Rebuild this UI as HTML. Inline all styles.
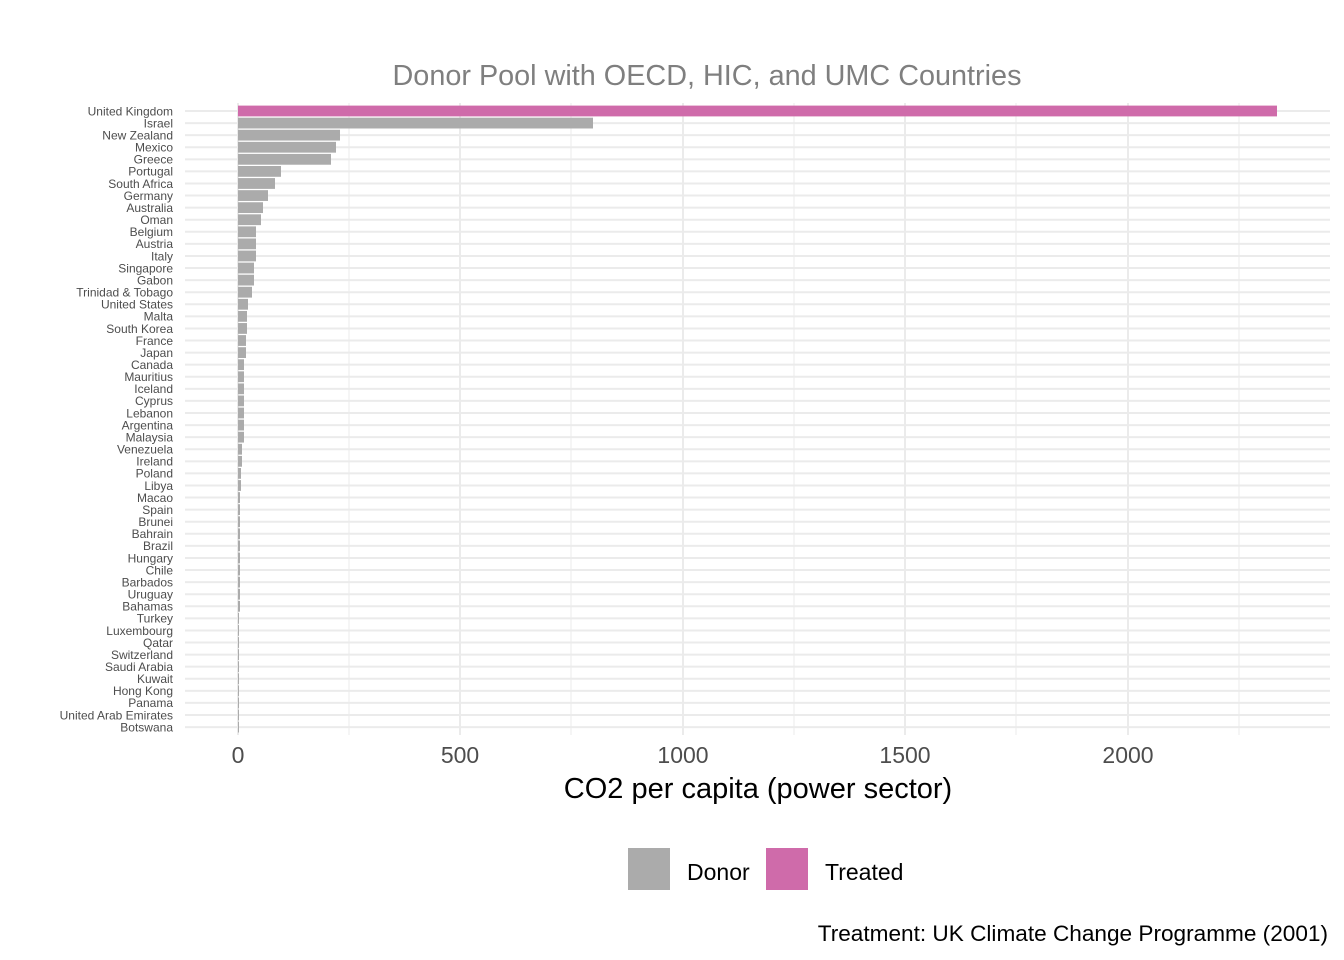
<!DOCTYPE html>
<html><head><meta charset="utf-8"><style>body{margin:0;background:#fff}svg{display:block}text{font-family:"Liberation Sans",Arial,sans-serif}.l{font-size:12px;fill:#4d4d4d;text-anchor:end}.g{stroke:#ebebeb;stroke-width:2}.d{fill:#ababab}</style></head><body>
<svg width="1344" height="960" xmlns="http://www.w3.org/2000/svg">
<rect width="1344" height="960" fill="#fff"/>
<g stroke="#ebebeb" stroke-width="1">
<line x1="349" y1="103" x2="349" y2="735"/><line x1="571" y1="103" x2="571" y2="735"/><line x1="794" y1="103" x2="794" y2="735"/><line x1="1016" y1="103" x2="1016" y2="735"/><line x1="1239" y1="103" x2="1239" y2="735"/>
</g>
<g stroke="#ebebeb" stroke-width="2">
<line x1="238" y1="103" x2="238" y2="735"/><line x1="460" y1="103" x2="460" y2="735"/><line x1="683" y1="103" x2="683" y2="735"/><line x1="905" y1="103" x2="905" y2="735"/><line x1="1128" y1="103" x2="1128" y2="735"/>
</g>
<g>
<g transform="translate(0,111)"><line class="g" x1="185" x2="1330"/><rect x="238" y="-5.4" width="1039" height="10.8" fill="#cf6baa"/><text class="l" x="173" y="4.3">United Kingdom</text></g>
<g transform="translate(0,123.08)"><line class="g" x1="185" x2="1330"/><rect class="d" x="238" y="-5.4" width="355" height="10.8"/><text class="l" x="173" y="4.3">Israel</text></g>
<g transform="translate(0,135.16)"><line class="g" x1="185" x2="1330"/><rect class="d" x="238" y="-5.4" width="102" height="10.8"/><text class="l" x="173" y="4.3">New Zealand</text></g>
<g transform="translate(0,147.24)"><line class="g" x1="185" x2="1330"/><rect class="d" x="238" y="-5.4" width="98" height="10.8"/><text class="l" x="173" y="4.3">Mexico</text></g>
<g transform="translate(0,159.32)"><line class="g" x1="185" x2="1330"/><rect class="d" x="238" y="-5.4" width="93" height="10.8"/><text class="l" x="173" y="4.3">Greece</text></g>
<g transform="translate(0,171.4)"><line class="g" x1="185" x2="1330"/><rect class="d" x="238" y="-5.4" width="43" height="10.8"/><text class="l" x="173" y="4.3">Portugal</text></g>
<g transform="translate(0,183.48)"><line class="g" x1="185" x2="1330"/><rect class="d" x="238" y="-5.4" width="37" height="10.8"/><text class="l" x="173" y="4.3">South Africa</text></g>
<g transform="translate(0,195.56)"><line class="g" x1="185" x2="1330"/><rect class="d" x="238" y="-5.4" width="30" height="10.8"/><text class="l" x="173" y="4.3">Germany</text></g>
<g transform="translate(0,207.64)"><line class="g" x1="185" x2="1330"/><rect class="d" x="238" y="-5.4" width="25" height="10.8"/><text class="l" x="173" y="4.3">Australia</text></g>
<g transform="translate(0,219.72)"><line class="g" x1="185" x2="1330"/><rect class="d" x="238" y="-5.4" width="23" height="10.8"/><text class="l" x="173" y="4.3">Oman</text></g>
<g transform="translate(0,231.8)"><line class="g" x1="185" x2="1330"/><rect class="d" x="238" y="-5.4" width="18" height="10.8"/><text class="l" x="173" y="4.3">Belgium</text></g>
<g transform="translate(0,243.88)"><line class="g" x1="185" x2="1330"/><rect class="d" x="238" y="-5.4" width="18" height="10.8"/><text class="l" x="173" y="4.3">Austria</text></g>
<g transform="translate(0,255.96)"><line class="g" x1="185" x2="1330"/><rect class="d" x="238" y="-5.4" width="18" height="10.8"/><text class="l" x="173" y="4.3">Italy</text></g>
<g transform="translate(0,268.04)"><line class="g" x1="185" x2="1330"/><rect class="d" x="238" y="-5.4" width="16" height="10.8"/><text class="l" x="173" y="4.3">Singapore</text></g>
<g transform="translate(0,280.12)"><line class="g" x1="185" x2="1330"/><rect class="d" x="238" y="-5.4" width="16" height="10.8"/><text class="l" x="173" y="4.3">Gabon</text></g>
<g transform="translate(0,292.2)"><line class="g" x1="185" x2="1330"/><rect class="d" x="238" y="-5.4" width="14" height="10.8"/><text class="l" x="173" y="4.3">Trinidad &amp; Tobago</text></g>
<g transform="translate(0,304.28)"><line class="g" x1="185" x2="1330"/><rect class="d" x="238" y="-5.4" width="10" height="10.8"/><text class="l" x="173" y="4.3">United States</text></g>
<g transform="translate(0,316.36)"><line class="g" x1="185" x2="1330"/><rect class="d" x="238" y="-5.4" width="9" height="10.8"/><text class="l" x="173" y="4.3">Malta</text></g>
<g transform="translate(0,328.44)"><line class="g" x1="185" x2="1330"/><rect class="d" x="238" y="-5.4" width="9" height="10.8"/><text class="l" x="173" y="4.3">South Korea</text></g>
<g transform="translate(0,340.52)"><line class="g" x1="185" x2="1330"/><rect class="d" x="238" y="-5.4" width="8" height="10.8"/><text class="l" x="173" y="4.3">France</text></g>
<g transform="translate(0,352.6)"><line class="g" x1="185" x2="1330"/><rect class="d" x="238" y="-5.4" width="8" height="10.8"/><text class="l" x="173" y="4.3">Japan</text></g>
<g transform="translate(0,364.68)"><line class="g" x1="185" x2="1330"/><rect class="d" x="238" y="-5.4" width="6" height="10.8"/><text class="l" x="173" y="4.3">Canada</text></g>
<g transform="translate(0,376.76)"><line class="g" x1="185" x2="1330"/><rect class="d" x="238" y="-5.4" width="6" height="10.8"/><text class="l" x="173" y="4.3">Mauritius</text></g>
<g transform="translate(0,388.84)"><line class="g" x1="185" x2="1330"/><rect class="d" x="238" y="-5.4" width="6" height="10.8"/><text class="l" x="173" y="4.3">Iceland</text></g>
<g transform="translate(0,400.92)"><line class="g" x1="185" x2="1330"/><rect class="d" x="238" y="-5.4" width="6" height="10.8"/><text class="l" x="173" y="4.3">Cyprus</text></g>
<g transform="translate(0,413)"><line class="g" x1="185" x2="1330"/><rect class="d" x="238" y="-5.4" width="6" height="10.8"/><text class="l" x="173" y="4.3">Lebanon</text></g>
<g transform="translate(0,425.08)"><line class="g" x1="185" x2="1330"/><rect class="d" x="238" y="-5.4" width="6" height="10.8"/><text class="l" x="173" y="4.3">Argentina</text></g>
<g transform="translate(0,437.16)"><line class="g" x1="185" x2="1330"/><rect class="d" x="238" y="-5.4" width="6" height="10.8"/><text class="l" x="173" y="4.3">Malaysia</text></g>
<g transform="translate(0,449.24)"><line class="g" x1="185" x2="1330"/><rect class="d" x="238" y="-5.4" width="4" height="10.8"/><text class="l" x="173" y="4.3">Venezuela</text></g>
<g transform="translate(0,461.32)"><line class="g" x1="185" x2="1330"/><rect class="d" x="238" y="-5.4" width="4" height="10.8"/><text class="l" x="173" y="4.3">Ireland</text></g>
<g transform="translate(0,473.4)"><line class="g" x1="185" x2="1330"/><rect class="d" x="238" y="-5.4" width="3" height="10.8"/><text class="l" x="173" y="4.3">Poland</text></g>
<g transform="translate(0,485.48)"><line class="g" x1="185" x2="1330"/><rect class="d" x="238" y="-5.4" width="3" height="10.8"/><text class="l" x="173" y="4.3">Libya</text></g>
<g transform="translate(0,497.56)"><line class="g" x1="185" x2="1330"/><rect class="d" x="238" y="-5.4" width="2" height="10.8"/><text class="l" x="173" y="4.3">Macao</text></g>
<g transform="translate(0,509.64)"><line class="g" x1="185" x2="1330"/><rect class="d" x="238" y="-5.4" width="2" height="10.8"/><text class="l" x="173" y="4.3">Spain</text></g>
<g transform="translate(0,521.72)"><line class="g" x1="185" x2="1330"/><rect class="d" x="238" y="-5.4" width="2" height="10.8"/><text class="l" x="173" y="4.3">Brunei</text></g>
<g transform="translate(0,533.8)"><line class="g" x1="185" x2="1330"/><rect class="d" x="238" y="-5.4" width="2" height="10.8"/><text class="l" x="173" y="4.3">Bahrain</text></g>
<g transform="translate(0,545.88)"><line class="g" x1="185" x2="1330"/><rect class="d" x="238" y="-5.4" width="2" height="10.8"/><text class="l" x="173" y="4.3">Brazil</text></g>
<g transform="translate(0,557.96)"><line class="g" x1="185" x2="1330"/><rect class="d" x="238" y="-5.4" width="2" height="10.8"/><text class="l" x="173" y="4.3">Hungary</text></g>
<g transform="translate(0,570.04)"><line class="g" x1="185" x2="1330"/><rect class="d" x="238" y="-5.4" width="2" height="10.8"/><text class="l" x="173" y="4.3">Chile</text></g>
<g transform="translate(0,582.12)"><line class="g" x1="185" x2="1330"/><rect class="d" x="238" y="-5.4" width="2" height="10.8"/><text class="l" x="173" y="4.3">Barbados</text></g>
<g transform="translate(0,594.2)"><line class="g" x1="185" x2="1330"/><rect class="d" x="238" y="-5.4" width="2" height="10.8"/><text class="l" x="173" y="4.3">Uruguay</text></g>
<g transform="translate(0,606.28)"><line class="g" x1="185" x2="1330"/><rect class="d" x="238" y="-5.4" width="2" height="10.8"/><text class="l" x="173" y="4.3">Bahamas</text></g>
<g transform="translate(0,618.36)"><line class="g" x1="185" x2="1330"/><rect class="d" x="238" y="-5.4" width="1" height="10.8"/><text class="l" x="173" y="4.3">Turkey</text></g>
<g transform="translate(0,630.44)"><line class="g" x1="185" x2="1330"/><rect class="d" x="238" y="-5.4" width="1" height="10.8"/><text class="l" x="173" y="4.3">Luxembourg</text></g>
<g transform="translate(0,642.52)"><line class="g" x1="185" x2="1330"/><rect class="d" x="238" y="-5.4" width="1" height="10.8"/><text class="l" x="173" y="4.3">Qatar</text></g>
<g transform="translate(0,654.6)"><line class="g" x1="185" x2="1330"/><rect class="d" x="238" y="-5.4" width="1" height="10.8"/><text class="l" x="173" y="4.3">Switzerland</text></g>
<g transform="translate(0,666.68)"><line class="g" x1="185" x2="1330"/><rect class="d" x="238" y="-5.4" width="1" height="10.8"/><text class="l" x="173" y="4.3">Saudi Arabia</text></g>
<g transform="translate(0,678.76)"><line class="g" x1="185" x2="1330"/><rect class="d" x="238" y="-5.4" width="1" height="10.8"/><text class="l" x="173" y="4.3">Kuwait</text></g>
<g transform="translate(0,690.84)"><line class="g" x1="185" x2="1330"/><rect class="d" x="238" y="-5.4" width="1" height="10.8"/><text class="l" x="173" y="4.3">Hong Kong</text></g>
<g transform="translate(0,702.92)"><line class="g" x1="185" x2="1330"/><rect class="d" x="238" y="-5.4" width="1" height="10.8"/><text class="l" x="173" y="4.3">Panama</text></g>
<g transform="translate(0,715)"><line class="g" x1="185" x2="1330"/><rect class="d" x="238" y="-5.4" width="1" height="10.8"/><text class="l" x="173" y="4.3">United Arab Emirates</text></g>
<g transform="translate(0,727.08)"><line class="g" x1="185" x2="1330"/><rect class="d" x="238" y="-5.4" width="1" height="10.8"/><text class="l" x="173" y="4.3">Botswana</text></g>
</g>
<text x="707" y="85" text-anchor="middle" font-size="28.8" fill="#7f7f7f">Donor Pool with OECD, HIC, and UMC Countries</text>
<g font-size="23" fill="#4d4d4d" text-anchor="middle">
<text x="238" y="763">0</text><text x="460" y="763">500</text><text x="683" y="763">1000</text><text x="905" y="763">1500</text><text x="1128" y="763">2000</text>
</g>
<text x="758" y="798" text-anchor="middle" font-size="29" fill="#000">CO2 per capita (power sector)</text>
<rect x="628" y="848" width="42" height="42" fill="#ababab"/>
<text x="687" y="880" font-size="23" fill="#000">Donor</text>
<rect x="766" y="848" width="42" height="42" fill="#cf6baa"/>
<text x="825" y="880" font-size="23" fill="#000">Treated</text>
<text x="1328" y="941" text-anchor="end" font-size="22.6" fill="#000">Treatment: UK Climate Change Programme (2001)</text>
</svg>
</body></html>
